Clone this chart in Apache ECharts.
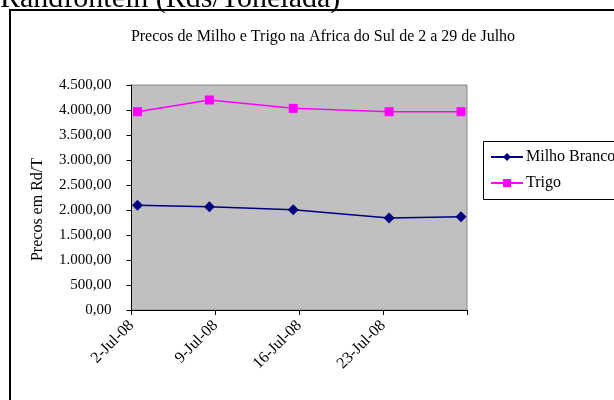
<!DOCTYPE html>
<html>
<head>
<meta charset="utf-8">
<script src="https://cdn.jsdelivr.net/npm/echarts@6/dist/echarts.min.js"></script>
<style>
  html, body { margin: 0; padding: 0; background: #fff; }
  #chart { width: 614px; height: 400px; }
</style>
</head>
<body>
<div id="chart"></div>
<script>
// dias de julho de 2008 com cotacao
const dias = [2, 8, 15, 23, 29]
const milhoBranco = [2093, 2067, 2007, 1840, 1867]
const trigo = [3966, 4200, 4033, 3966, 3966]
const yTicks = [0, 500, 1000, 1500, 2000, 2500, 3000, 3500, 4000, 4500]

const font = 'Liberation Serif, Times New Roman, serif'

// eixo de datas tipo Excel: o ponto fica no meio do dia
const pares = vals => dias.map((d, i) => [d + 0.5, vals[i]])

const fmtNum = v => {
  const s = v.toFixed(2).split('.')
  return s[0].replace(/\B(?=(\d{3})+(?!\d))/g, '.') + ',' + s[1]
}

const chart = echarts.init(document.getElementById('chart'))
chart.setOption({
  animation: false,
  textStyle: { fontFamily: font, color: '#000' },
  title: {
    text: 'Precos de Milho e Trigo na Africa do Sul de 2 a 29 de Julho',
    left: 318,
    textAlign: 'center',
    top: 24,
    textStyle: { fontFamily: font, fontSize: 16, fontWeight: 'normal', color: '#000' }
  },
  graphic: [
    {
      type: 'text', left: 0, top: -16,
      style: { text: 'Randfontein (Rds/Tonelada)', font: '30px ' + font, fill: '#000' }
    },
    {
      type: 'rect', shape: { x: 10, y: 10, width: 700, height: 500 },
      style: { fill: 'none', stroke: '#000', lineWidth: 2 }, z: -1
    },
    {
      type: 'rect', shape: { x: 483.5, y: 141.5, width: 200, height: 58 },
      style: { fill: '#fff', stroke: '#000', lineWidth: 1 }, z: 1
    }
  ],
  legend: {
    orient: 'vertical',
    left: 490,
    top: 149,
    itemWidth: 32,
    itemHeight: 10,
    itemGap: 10,
    padding: 0,
    z: 5,
    textStyle: { fontFamily: font, fontSize: 16, color: '#000', padding: [0, 0, 0, -2] },
    data: ['Milho Branco', 'Trigo']
  },
  grid: {
    left: 131.5, right: 147, top: 85, bottom: 90,
    show: true, backgroundColor: '#C0C0C0', borderColor: '#8a8a8a', borderWidth: 1
  },
  xAxis: {
    type: 'value',
    min: 2, max: 30, interval: 7,
    axisLine: { lineStyle: { color: '#000', width: 1 } },
    axisTick: { inside: false, length: 5, lineStyle: { color: '#000' } },
    splitLine: { show: false },
    axisLabel: {
      rotate: 45, fontSize: 16, color: '#000', fontFamily: font, margin: 13,
      formatter: v => v >= 30 ? '' : v + '-Jul-08'
    }
  },
  yAxis: {
    type: 'value',
    min: yTicks[0], max: yTicks[yTicks.length - 1], interval: 500,
    name: 'Precos em Rd/T',
    nameLocation: 'middle',
    nameGap: 86,
    nameTextStyle: { fontFamily: font, fontSize: 16, color: '#000', padding: [0, 0, 0, -24] },
    axisLine: { show: true, lineStyle: { color: '#000', width: 1 } },
    axisTick: { show: true, inside: false, length: 5, lineStyle: { color: '#000' } },
    splitLine: { show: false },
    axisLabel: { fontSize: 15, color: '#000', fontFamily: font, margin: 20, formatter: fmtNum }
  },
  series: [
    {
      name: 'Milho Branco', type: 'line', data: pares(milhoBranco),
      symbol: 'diamond', symbolSize: 11,
      itemStyle: { color: '#000080' },
      lineStyle: { color: '#000080', width: 1.5 }
    },
    {
      name: 'Trigo', type: 'line', data: pares(trigo),
      symbol: 'rect', symbolSize: 9,
      itemStyle: { color: '#FF00FF' },
      lineStyle: { color: '#FF00FF', width: 1.5 }
    }
  ]
})
</script>
</body>
</html>
